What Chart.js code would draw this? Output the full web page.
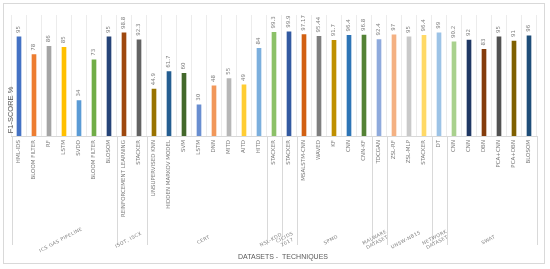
<!DOCTYPE html>
<html>
<head>
<meta charset="utf-8">
<script src="https://cdn.jsdelivr.net/npm/chart.js@4.4.1/dist/chart.umd.min.js"></script>
<style>
  html, body { margin: 0; padding: 0; background: #fff; }
</style>
</head>
<body>
<canvas id="chart" width="550" height="269"></canvas>
<script>
const techniques = [
  "HML-IDS", "BLOOM FILTER", "RF", "LSTM", "SVDD", "BLOOM FILTER", "BLOSOM",
  "REINFORCEMENT LEARNING", "STACKER",
  "UNSUPERVISED KNN", "HIDDEN MARKOV MODEL", "SVM", "LSTM", "DNN", "MITD", "AITD", "HITD",
  "STACKER",
  "STACKER",
  "MSALSTM-CNN", "WAVED", "KF", "CNN", "CNN-KF",
  "TDCGAN",
  "ZSL-RF", "ZSL-MLP", "STACKER",
  "DT",
  "CNN", "CNN", "DBN", "PCA+CNN", "PCA+DBN", "BLOSOM"
];
const f1Scores = [
  95, 78, 86, 85, 34, 73, 95,
  98.8, 92.3,
  44.9, 61.7, 60, 30, 48, 55, 49, 84,
  99.3,
  99.9,
  97.17, 95.44, 91.7, 96.4, 96.8,
  92.4,
  97, 95, 96.4,
  99,
  90.2, 92, 83, 95, 91, 96
];
const barColors = [
  "#4472C4", "#ED7D31", "#A5A5A5", "#FFC000", "#5B9BD5", "#70AD47", "#264478",
  "#9E480E", "#636363",
  "#997300", "#255E91", "#43682B", "#698ED0", "#F1975A", "#B7B7B7", "#FFCD33", "#7CAFDD",
  "#8CC168",
  "#335AA1",
  "#D26012", "#7F7F7F", "#BF9000", "#2E75B6", "#548235",
  "#8FAADC",
  "#F4B183", "#C9C9C9", "#FFD966",
  "#9DC3E6",
  "#A9D18E", "#203864", "#843C0C", "#525252", "#7F6000", "#1F4E79"
];
const datasetGroups = [
  ["ICS GAS PIPELINE"], ["ISOT, ISCX"], ["CERT"], ["NSL-KDD"], ["CICIDS", "2017"],
  ["SPMD"], ["MALWARE", "DATASET"], ["UNSW-NB15"], ["NETWORK", "DATASET"], ["SWAT"]
];
const groupSizes = [7, 2, 8, 1, 1, 5, 1, 3, 1, 6];

const extras = {
  id: 'extras',
  beforeDraw(chart) {
    const ctx = chart.ctx;
    ctx.save();
    ctx.fillStyle = '#fff';
    ctx.fillRect(0, 0, chart.width, chart.height);
    ctx.strokeStyle = '#d9d9d9';
    ctx.lineWidth = 1;
    ctx.strokeRect(3.5, 3.5, 541, 260);
    ctx.restore();
  },
  afterDatasetsDraw(chart) {
    const { ctx, chartArea, scales: { x } } = chart;
    const meta = chart.getDatasetMeta(0);
    const half = (x.getPixelForValue(1) - x.getPixelForValue(0)) / 2;
    ctx.save();

    // value labels above the bars
    ctx.font = '5.5px "DejaVu Sans"';
    ctx.fillStyle = '#7f7f7f';
    ctx.textAlign = 'left';
    ctx.textBaseline = 'middle';
    meta.data.forEach((bar, i) => {
      ctx.save();
      ctx.translate(bar.x, bar.y - 4);
      ctx.rotate(-Math.PI / 2);
      ctx.fillText(String(f1Scores[i]), 0, 0);
      ctx.restore();
    });

    // dataset groups: separators and slanted names
    ctx.strokeStyle = '#d9d9d9';
    ctx.lineWidth = 1;
    let start = 0;
    const edge = (i) => Math.round(x.getPixelForValue(i) - half) + 0.5;
    ctx.beginPath();
    ctx.moveTo(edge(0), chartArea.bottom);
    ctx.lineTo(edge(0), 245);
    ctx.stroke();
    ctx.font = '4.8px "DejaVu Sans"';
    ctx.letterSpacing = '0.4px';
    ctx.fillStyle = '#7f7f7f';
    ctx.textAlign = 'center';
    groupSizes.forEach((n, g) => {
      const end = start + n;
      const xe = edge(end);
      ctx.beginPath();
      ctx.moveTo(xe, chartArea.bottom);
      ctx.lineTo(xe, 245);
      ctx.stroke();
      const cx = (x.getPixelForValue(start) + x.getPixelForValue(end - 1)) / 2;
      const lines = datasetGroups[g];
      ctx.save();
      ctx.translate(cx - 3, 240);
      ctx.rotate(-28 * Math.PI / 180);
      lines.forEach((t, k) => {
        ctx.fillText(t, 0, (k - (lines.length - 1) / 2) * 5.5);
      });
      ctx.restore();
      start = end;
    });
    ctx.letterSpacing = '0px';

    // axis titles
    ctx.fillStyle = '#595959';
    ctx.textBaseline = 'middle';
    ctx.font = '7px "Liberation Sans"';
    ctx.fillText('DATASETS -  TECHNIQUES', 283, 257);
    ctx.save();
    ctx.translate(11, 110);
    ctx.rotate(-Math.PI / 2);
    ctx.font = '7.5px "Liberation Sans"';
    ctx.fillText('F1-SCORE %', 0, 0);
    ctx.restore();

    ctx.restore();
  }
};

new Chart(document.getElementById('chart'), {
  type: 'bar',
  data: {
    labels: techniques,
    datasets: [{
      data: f1Scores,
      backgroundColor: barColors,
      barThickness: 4
    }]
  },
  options: {
    responsive: false,
    animation: false,
    devicePixelRatio: 1,
    layout: { padding: { top: 15, left: 11.5, right: 13.5, bottom: 0 } },
    plugins: { legend: { display: false }, tooltip: { enabled: false } },
    scales: {
      x: {
        grid: { color: '#ececec', offset: true, drawTicks: false },
        border: { color: '#d9d9d9' },
        ticks: {
          autoSkip: false,
          minRotation: 90,
          maxRotation: 90,
          padding: 4,
          color: '#7f7f7f',
          font: { family: 'DejaVu Sans', size: 5.5 }
        },
        afterFit(scale) { scale.height = 133; }
      },
      y: { display: false, min: 0, max: 116 }
    }
  },
  plugins: [extras]
});
</script>
</body>
</html>
